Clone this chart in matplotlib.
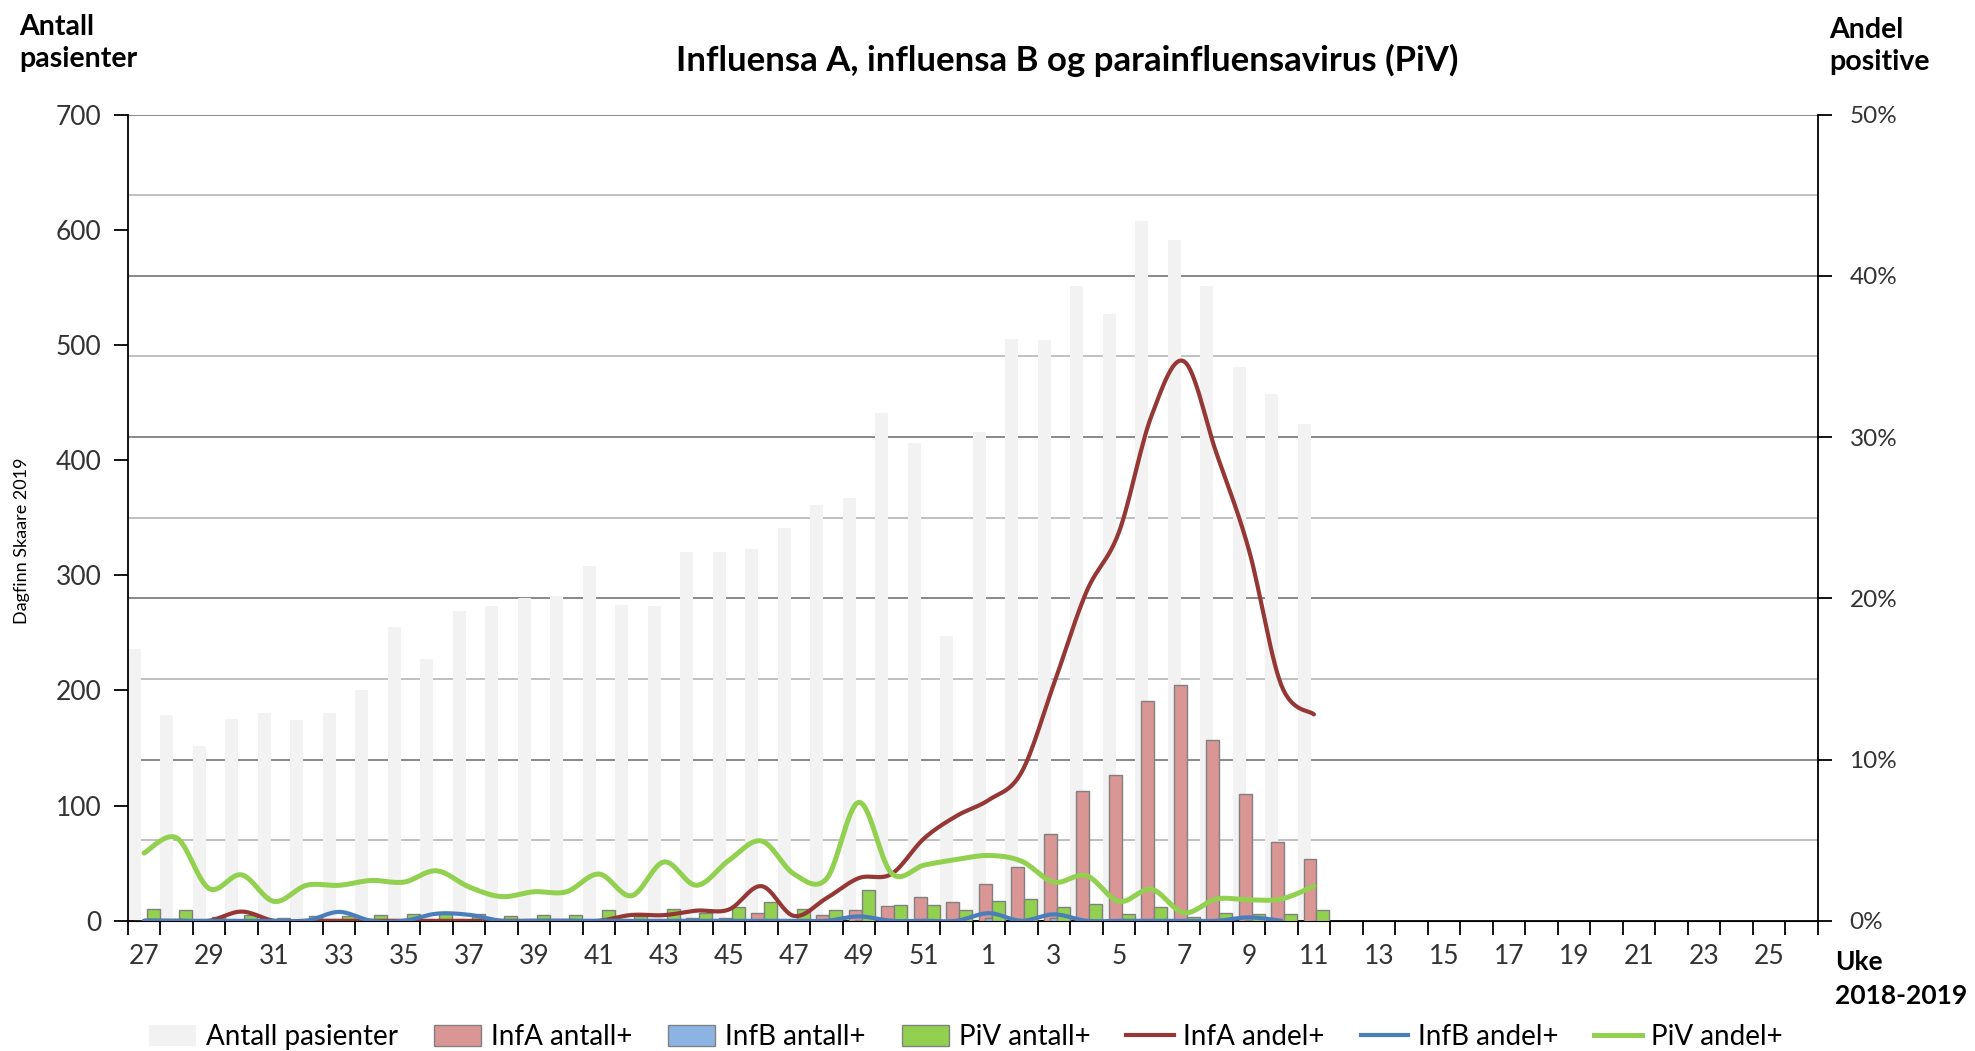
import matplotlib
matplotlib.use('Agg')
import matplotlib.pyplot as plt
import numpy as np
from matplotlib.patches import Patch
from matplotlib.lines import Line2D

plt.rcParams['font.family'] = ['Lato', 'DejaVu Sans']

# weeks 27-52 (2018) and 1-26 (2019)
weeks = list(range(27, 53)) + list(range(1, 27))

# counts, weeks 27 .. 11
antall = [236, 179, 152, 175, 180, 174, 180, 200, 255, 227, 269, 273, 280, 282, 308, 274, 273,
          320, 320, 323, 341, 361, 367, 441, 415, 247, 424, 505, 504, 551, 527, 608, 591, 551,
          481, 457, 431]
infa_antall = [0, 0, 0, 1, 0, 0, 0, 0, 0, 0, 0, 0, 0, 0, 0, 1, 1, 2, 2, 7, 1, 5, 9, 13, 21, 16,
               32, 47, 75, 113, 127, 191, 205, 157, 110, 68, 54]
infb_antall = [0, 0, 0, 0, 0, 0, 1, 0, 0, 1, 1, 0, 0, 0, 0, 0, 0, 0, 0, 0, 0, 0, 1, 0, 0, 0,
               2, 0, 2, 0, 0, 0, 0, 0, 1, 0, 0]
piv_antall = [10, 9, 3, 5, 2, 4, 4, 5, 6, 7, 6, 4, 5, 5, 9, 4, 10, 7, 12, 16, 10, 9, 27, 14, 14,
              9, 17, 19, 12, 15, 6, 12, 3, 7, 6, 6, 9]

# share positive (%)
infa_andel = [0, 0, 0, 0.57, 0, 0, 0, 0, 0, 0, 0, 0, 0, 0, 0, 0.36, 0.35, 0.63, 0.7, 2.15, 0.3,
              1.4, 2.65, 2.9, 5.1, 6.5, 7.5, 9.2, 14.7, 20.4, 24.1, 31.3, 34.7, 29.0, 23.0, 14.6,
              12.8]
infb_andel = [0, 0, 0, 0, 0, 0, 0.55, 0, 0, 0.44, 0.37, 0, 0, 0, 0, 0, 0, 0, 0, 0, 0, 0, 0.27,
              0, 0, 0, 0.47, 0, 0.4, 0, 0, 0, 0, 0, 0.21, 0]
piv_andel = [4.2, 5.15, 2.0, 2.85, 1.2, 2.2, 2.2, 2.5, 2.4, 3.1, 2.1, 1.5, 1.8, 1.8, 2.9, 1.55,
             3.65, 2.2, 3.75, 4.95, 2.9, 2.6, 7.35, 2.95, 3.45, 3.8, 4.05, 3.7, 2.4, 2.8, 1.2,
             1.95, 0.5, 1.35, 1.3, 1.35, 2.15]


def smooth(x, y, n=16):
    # excel style smoothed line (bezier through the points)
    P = np.column_stack([np.asarray(x, float), np.asarray(y, float)])
    Q = np.vstack([P[0], P, P[-1]])
    t = np.linspace(0, 1, n)[:, None]
    out = [P[:1]]
    for i in range(len(P) - 1):
        p0, p1, p2, p3 = Q[i], Q[i + 1], Q[i + 2], Q[i + 3]
        c1 = p1 + (p2 - p0) / 6
        c2 = p2 - (p3 - p1) / 6
        seg = (1 - t) ** 3 * p1 + 3 * (1 - t) ** 2 * t * c1 + 3 * (1 - t) * t ** 2 * c2 + t ** 3 * p2
        out.append(seg[1:])
    return np.vstack(out)


fig = plt.figure(figsize=(19.75, 10.51), dpi=100)
ax = fig.add_axes([0.0647, 0.1239, 0.9203 - 0.0647, 0.891 - 0.1239])
ax2 = ax.twinx()

idx = np.arange(len(weeks))
n = len(antall)
w = 0.4
ax.bar(idx[:n] - 0.30, antall, w, color='#f2f2f2', zorder=2)
ax.bar(idx[:n] - 0.12, infa_antall, w, color='#d99694', edgecolor='#808080', lw=1, zorder=3)
ax.bar(idx[:n] + 0.08, infb_antall, w, color='#8db3e2', edgecolor='#808080', lw=1, zorder=3)
ax.bar(idx[:n] + 0.28, piv_antall, w, color='#92d050', edgecolor='#808080', lw=1, zorder=4)

ax.set_xlim(-0.5, len(weeks) - 0.5)
ax.set_ylim(0, 700)
ax.set_yticks(range(0, 701, 100))
ax.set_xticks(np.arange(-0.5, len(weeks), 1.0))
ax.set_xticklabels([])
ax.set_xticks(idx[::2], minor=True)
ax.set_xticklabels([str(wk) for wk in weeks[::2]], minor=True)
ax.tick_params(axis='x', which='major', length=10, width=1.3, direction='out')
ax.tick_params(axis='x', which='minor', length=0, pad=17, labelsize=19, labelcolor='#333333')
ax.tick_params(axis='y', length=10, width=1.3, pad=9, labelsize=19, labelcolor='#333333')
ax.spines['top'].set_visible(False)
ax.spines['right'].set_visible(False)
for s in ['left', 'bottom']:
    ax.spines[s].set_linewidth(1.3)

# gridlines every 5 % on the right axis
ax2.set_ylim(0, 50)
for g in range(5, 51, 5):
    ax2.axhline(g, color='#888888' if g % 10 == 0 else '#c0c0c0', lw=1.4, zorder=0)
ax.set_zorder(ax2.get_zorder() + 1)
ax.patch.set_visible(False)

ax3 = ax.twinx()
ax3.set_ylim(0, 50)
ax3.set_zorder(ax.get_zorder() + 1)
ax3.axis('off')
xs = smooth(idx[:n], infa_andel)
ax3.plot(xs[:, 0], xs[:, 1], color='#953735', lw=3.0, solid_capstyle='round', zorder=5)
xs = smooth(idx[:len(infb_andel)], infb_andel)
ax3.plot(xs[:, 0], xs[:, 1], color='#4a7ebb', lw=3.0, solid_capstyle='round', zorder=6)
xs = smooth(idx[:n], piv_andel)
ax3.plot(xs[:, 0], xs[:, 1], color='#92d050', lw=3.6, solid_capstyle='round', zorder=7)

ax2.set_yticks(range(0, 51, 10))
ax2.set_yticklabels([f'{v}%' for v in range(0, 51, 10)])
ax2.tick_params(axis='y', length=10, width=1.3, pad=13, labelsize=17.5, labelcolor='#333333')
ax2.spines['top'].set_visible(False)
ax2.spines['left'].set_visible(False)
ax2.spines['right'].set_linewidth(1.3)

fig.text(1067 / 1975, 1 - 60 / 1051, 'Influensa A, influensa B og parainfluensavirus (PiV)',
         ha='center', va='center', fontsize=25, fontweight='bold')
fig.text(19 / 1975, 1 - 43 / 1051, 'Antall\npasienter', ha='left', va='center', fontsize=20.5,
         fontweight='bold', linespacing=1.25)
fig.text(1829 / 1975, 1 - 46 / 1051, 'Andel\npositive', ha='left', va='center', fontsize=20.5,
         fontweight='bold', linespacing=1.25)
fig.text(1835 / 1975, 1 - 979 / 1051, 'Uke\n2018-2019', ha='left', va='center', fontsize=19,
         fontweight='bold', linespacing=1.45)
fig.text(22 / 1975, 1 - 541 / 1051, 'Dagfinn Skaare 2019', rotation=90, ha='center',
         va='center', fontsize=13)

handles = [Patch(facecolor='#f2f2f2', edgecolor='none'),
           Patch(facecolor='#d99694', edgecolor='#808080'),
           Patch(facecolor='#8db3e2', edgecolor='#808080'),
           Patch(facecolor='#92d050', edgecolor='#808080'),
           Line2D([], [], color='#953735', lw=3),
           Line2D([], [], color='#4a7ebb', lw=3),
           Line2D([], [], color='#92d050', lw=3.6)]
labels = ['Antall pasienter', 'InfA antall+', 'InfB antall+', 'PiV antall+',
          'InfA andel+', 'InfB andel+', 'PiV andel+']
fig.legend(handles, labels, ncol=7, loc='center', bbox_to_anchor=(0.489, 0.013), frameon=False,
           fontsize=20, handlelength=1.7, handleheight=0.75, handletextpad=0.35,
           columnspacing=1.3, borderpad=0)

fig.savefig('out.png', dpi=100)
